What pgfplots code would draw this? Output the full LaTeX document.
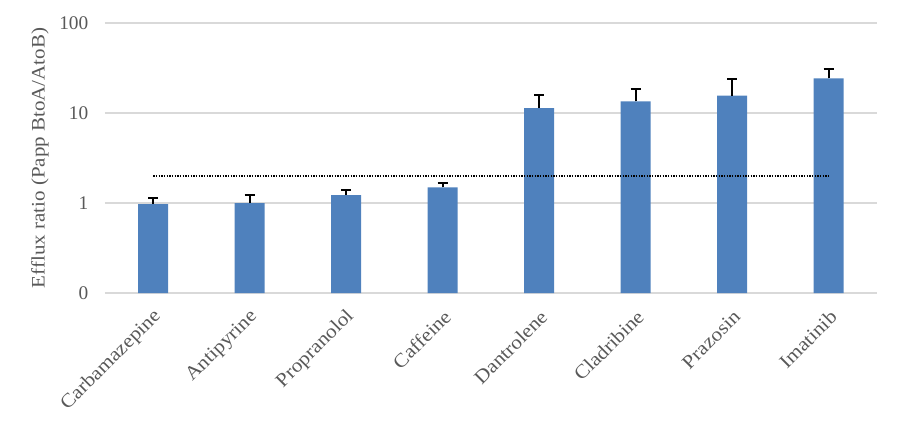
\documentclass[border=0pt]{standalone}
\usepackage{pgfplots}
\pgfplotsset{compat=1.18}
\usepackage{fontspec}
\setmainfont{Liberation Serif}
\newfontfamily\labelfont{Liberation Serif}[FakeStretch=1.1]
\definecolor{barblue}{HTML}{4F81BD}
\definecolor{gridgray}{HTML}{D9D9D9}
\definecolor{textgray}{HTML}{595959}
\begin{document}
\begin{tikzpicture}
\path[use as bounding box] (-78.75pt,-96.75pt) rectangle (596.25pt,219.75pt);
\begin{axis}[
  at={(0,0)}, anchor=south west,
  scale only axis,
  width=579pt, height=202.5pt,
  ymode=log,
  log origin=infty,
  ymin=0.1, ymax=100,
  xmin=-0.5, xmax=7.5,
  ytick={0.1,1,10,100},
  yticklabels={0,1,10,100},
  xtick={0,1,2,3,4,5,6,7},
  xticklabels={Carbamazepine,Antipyrine,Propranolol,Caffeine,Dantrolene,Cladribine,Prazosin,Imatinib},
  axis line style={draw=none},
  major tick length=0pt,
  minor tick length=0pt,
  yminorticks=false,
  ymajorgrids,
  major grid style={gridgray, line width=1pt},
  tick label style={font=\fontsize{14.5}{16}\selectfont, text=textgray},
  yticklabel style={/pgf/number format/assume math mode=true, xshift=-9pt},
  xticklabel style={font=\labelfont\fontsize{14.5}{16}\selectfont, rotate=45, anchor=east, xshift=-5pt, yshift=-13.5pt},
  ylabel={Efflux ratio (Papp BtoA/AtoB)},
  ylabel style={font=\labelfont\fontsize{14.3}{16}\selectfont, text=textgray, at={(axis description cs:-0.0842,0.5)}, anchor=center},
  clip=false,
]
\addplot[ybar, bar width=22.5pt, fill=barblue, draw=none,
  error bars/.cd, y dir=plus, y explicit,
  error bar style={black, line width=1.6pt},
  error mark options={black, line width=1.6pt, mark size=3.8pt, rotate=90}]
  table[x=x, y=y, y error plus=e] {
x y e
0 0.97 0.17
1 1.00 0.24
2 1.22 0.19
3 1.49 0.19
4 11.3 4.4
5 13.5 4.8
6 15.6 8.1
7 24.3 6.3
};
\addplot[black, densely dotted, line width=1pt] coordinates {(0,2) (7,2)};
\end{axis}
\end{tikzpicture}
\end{document}
